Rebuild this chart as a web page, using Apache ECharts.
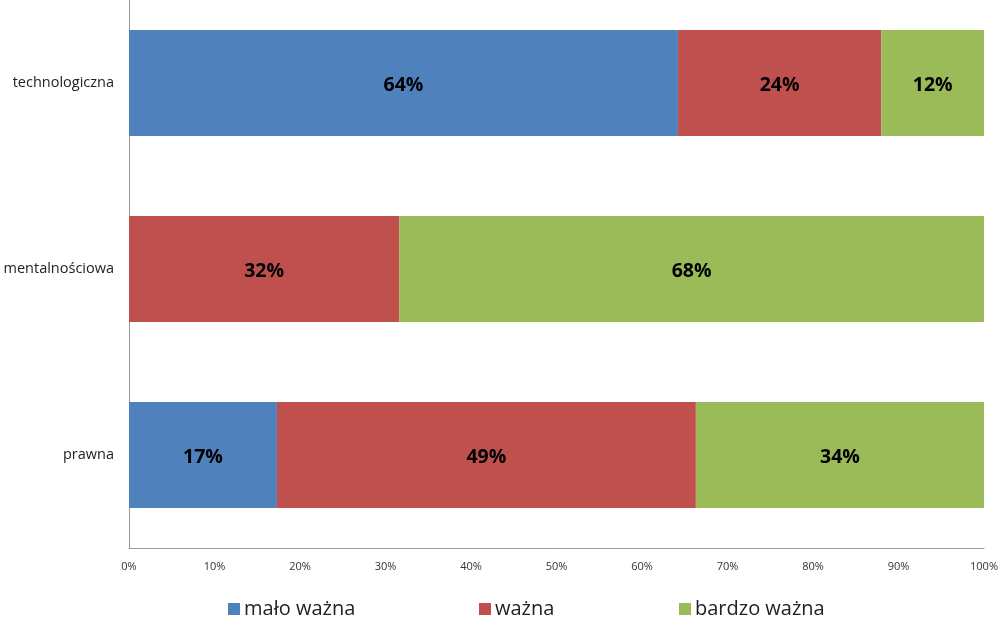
<!DOCTYPE html>
<html><head><meta charset="utf-8">
<script src="https://cdn.jsdelivr.net/npm/echarts@6/dist/echarts.min.js"></script>
<style>html,body{margin:0;padding:0;background:#fff;overflow:hidden}#c{width:1008px;height:635px;margin-top:-10px}</style>
</head><body><div id="c"></div>
<script>
const categories = ['prawna', 'mentalnościowa', 'technologiczna'];
const maloWazna = [17.3, 0, 64.2];
const wazna = [49.0, 31.6, 23.8];
const bardzoWazna = [33.7, 68.4, 12.0];
const seriesNames = ['mało ważna', 'ważna', 'bardzo ważna'];
const colors = ['#4F81BD', '#C0504D', '#9BBB59'];
const xTicks = [0, 10, 20, 30, 40, 50, 60, 70, 80, 90, 100];

const FONT = '"Open Sans", "Noto Sans", sans-serif';
const chart = echarts.init(document.getElementById('c'), null, {renderer: 'canvas'});
const dataSets = [maloWazna, wazna, bardzoWazna];
const legendLefts = [228, 479, 679];
chart.setOption({
  animation: false,
  textStyle: {fontFamily: FONT},
  grid: {left: 129, right: 24, top: 0, bottom: 77},
  legend: seriesNames.map((n, i) => ({
    left: legendLefts[i], top: 609, padding: 0, itemWidth: 12, itemHeight: 12, itemGap: 0,
    icon: 'rect',
    textStyle: {fontSize: 20, color: '#222', fontFamily: FONT, padding: [0, 0, 0, -1]},
    data: [n]
  })),
  xAxis: {
    type: 'value', min: 0, max: 100, interval: 10,
    axisLine: {show: true, lineStyle: {color: '#999'}},
    axisTick: {show: false},
    splitLine: {show: false},
    axisLabel: {fontSize: 11, color: '#333', margin: 13,
      formatter: v => xTicks.includes(v) ? v + '%' : ''}
  },
  yAxis: {
    type: 'category', data: categories,
    axisLine: {show: true, lineStyle: {color: '#999'}},
    axisTick: {show: false},
    axisLabel: {fontSize: 14.5, color: '#222', margin: 15, padding: [4, 0, 0, 0]}
  },
  series: dataSets.map((d, i) => ({
    name: seriesNames[i], type: 'bar', stack: 'total', barWidth: 106,
    itemStyle: {color: colors[i]},
    label: {show: true, position: 'inside', offset: [0, 2], fontSize: 19.5, fontWeight: 'bold', color: '#000',
      formatter: p => p.value > 0 ? Math.round(p.value) + '%' : ''},
    data: d
  }))
});
</script></body></html>
